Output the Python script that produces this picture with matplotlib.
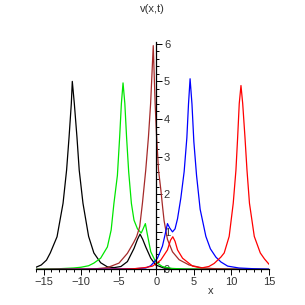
"""
plot.py - Ve lai bieu do v(x,t) kieu Maple (5 duong soliton).
Output: out.png (305x305)
"""

import matplotlib
matplotlib.use("Agg")
import matplotlib.pyplot as plt
from matplotlib.ticker import MultipleLocator

# Du lieu doc tu hinh goc (x, v)
BLACK_X = [-16, -15.3, -14.6, -14.1, -13.2, -12.4, -11.93, -11.6, -11.3, -11.17,
           -10.9, -10.55, -10.25, -9.75, -9.0, -8.3, -7.4, -6.5, -5.6, -4.7,
           -3.84, -2.96, -2.5, -2.16, -1.8, -1.4, -0.73, -0.07, 1.0, 3.0, 15]
BLACK_Y = [0.06, 0.12, 0.25, 0.44, 0.87, 1.76, 2.64, 3.52, 4.41, 5.0,
           4.41, 3.52, 2.64, 1.76, 0.88, 0.44, 0.18, 0.07, 0.05, 0.08,
           0.21, 0.56, 0.8, 0.94, 0.8, 0.6, 0.3, 0.12, 0.04, 0.01, 0.0]

GREEN_X = [-16, -13, -11, -10, -9, -8.3, -7.4, -6.5, -6.0, -5.63, -5.17, -4.87,
           -4.64, -4.42, -4.18, -3.95, -3.67, -3.31, -2.96, -2.5, -2.0, -1.75,
           -1.45, -1.2, -0.73, -0.07, 0.8, 2.0, 4.0, 15]
GREEN_Y = [0.01, 0.02, 0.04, 0.06, 0.1, 0.17, 0.3, 0.6, 1.05, 1.76, 2.5, 3.52,
           4.41, 4.96, 4.41, 3.52, 2.6, 1.76, 1.31, 1.08, 0.97, 1.08,
           1.22, 0.95, 0.47, 0.2, 0.08, 0.03, 0.01, 0.0]

BROWN_X = [-16, -10, -8, -6.5, -4.96, -3.84, -3.0, -2.6, -2.2, -1.84, -1.4,
           -1.04, -0.75, -0.4, -0.15, 0.05, 0.3, 0.62, 0.85, 1.04, 1.49, 2.16,
           3.04, 4.37, 6.2, 8.0, 15]
BROWN_Y = [0.0, 0.01, 0.02, 0.05, 0.17, 0.43, 0.72, 0.88, 1.14, 1.76, 2.64,
           3.52, 4.41, 5.95, 4.41, 3.52, 2.64, 2.1, 1.65, 1.3, 0.8, 0.47,
           0.26, 0.12, 0.04, 0.02, 0.0]

BLUE_X = [-16, -3, -1.4, -0.73, 0.16, 0.82, 1.2, 1.49, 1.8, 2.16, 2.5, 2.83,
          3.27, 3.71, 4.07, 4.29, 4.5, 4.75, 5.0, 5.36, 5.84, 6.6, 7.2, 7.93,
          8.6, 9.5, 11, 13, 15]
BLUE_Y = [0.0, 0.02, 0.04, 0.1, 0.3, 0.62, 0.95, 1.22, 1.1, 1.0, 1.08, 1.35,
          1.9, 2.6, 3.5, 4.4, 5.07, 4.4, 3.4, 2.5, 1.6, 0.88, 0.55, 0.33,
          0.2, 0.09, 0.04, 0.02, 0.01]

RED_X = [-16, -5, -3, -1.5, -0.5, 0.6, 1.49, 1.9, 2.2, 2.5, 2.83, 3.5, 4.83,
         6.0, 7.0, 7.7, 8.6, 9.04, 9.7, 10.24, 10.6, 10.83, 11.04, 11.27,
         11.5, 11.8, 12.07, 12.4, 13.04, 13.84, 14.4, 15]
RED_Y = [0.0, 0.01, 0.02, 0.05, 0.09, 0.25, 0.52, 0.78, 0.87, 0.75, 0.52, 0.3,
         0.09, 0.04, 0.08, 0.16, 0.33, 0.44, 0.88, 1.76, 2.64, 3.52, 4.41, 4.89,
         4.41, 3.52, 2.64, 1.76, 0.88, 0.44, 0.28, 0.14]

X_TICKS = [-15, -10, -5, 0, 5, 10, 15]
Y_TICKS = [0, 1, 2, 3, 4, 5, 6]

TEXT_COLOR = "#333333"


def setup_axes(ax):
    """Truc kieu Maple: truc x tai y=0, truc y tai x=0, nhan ben phai."""
    ax.set_xlim(-16, 15)
    ax.set_ylim(0, 6.06)

    ax.spines["top"].set_visible(False)
    ax.spines["left"].set_visible(False)
    ax.spines["right"].set_position(("data", 0))
    ax.spines["bottom"].set_position(("data", 0))
    for s in ("right", "bottom"):
        ax.spines[s].set_linewidth(0.9)
        ax.spines[s].set_color("black")

    ax.yaxis.set_ticks_position("right")
    ax.xaxis.set_ticks_position("bottom")

    ax.set_xticks(X_TICKS)
    ax.set_yticks(Y_TICKS)
    ax.xaxis.set_minor_locator(MultipleLocator(1))
    ax.yaxis.set_minor_locator(MultipleLocator(0.2))

    ax.tick_params(which="major", length=4, width=0.7, labelsize=8,
                   labelcolor=TEXT_COLOR, pad=1.5)
    ax.tick_params(which="minor", length=2.5, width=0.7)


def main():
    plt.rcParams["font.family"] = ["Liberation Sans", "DejaVu Sans"]
    fig = plt.figure(figsize=(3.05, 3.05), dpi=100)
    ax = fig.add_axes([0.118, 0.1164, 0.764, 0.7475])

    lw = 0.9
    ax.plot(BLACK_X, BLACK_Y, color="black", lw=lw)
    ax.plot(GREEN_X, GREEN_Y, color="#00e600", lw=lw)
    ax.plot(BROWN_X, BROWN_Y, color="#a52a2a", lw=lw)
    ax.plot(BLUE_X, BLUE_Y, color="#0000ff", lw=lw)
    ax.plot(RED_X, RED_Y, color="#ff0000", lw=lw)

    setup_axes(ax)

    fig.text(0.5, 0.972, "v(x,t)", ha="center", va="center",
             fontsize=8, color=TEXT_COLOR)
    fig.text(0.69, 0.045, "x", ha="center", va="center",
             fontsize=8, color=TEXT_COLOR)

    fig.savefig("out.png", dpi=100)
    plt.close(fig)


if __name__ == "__main__":
    main()
